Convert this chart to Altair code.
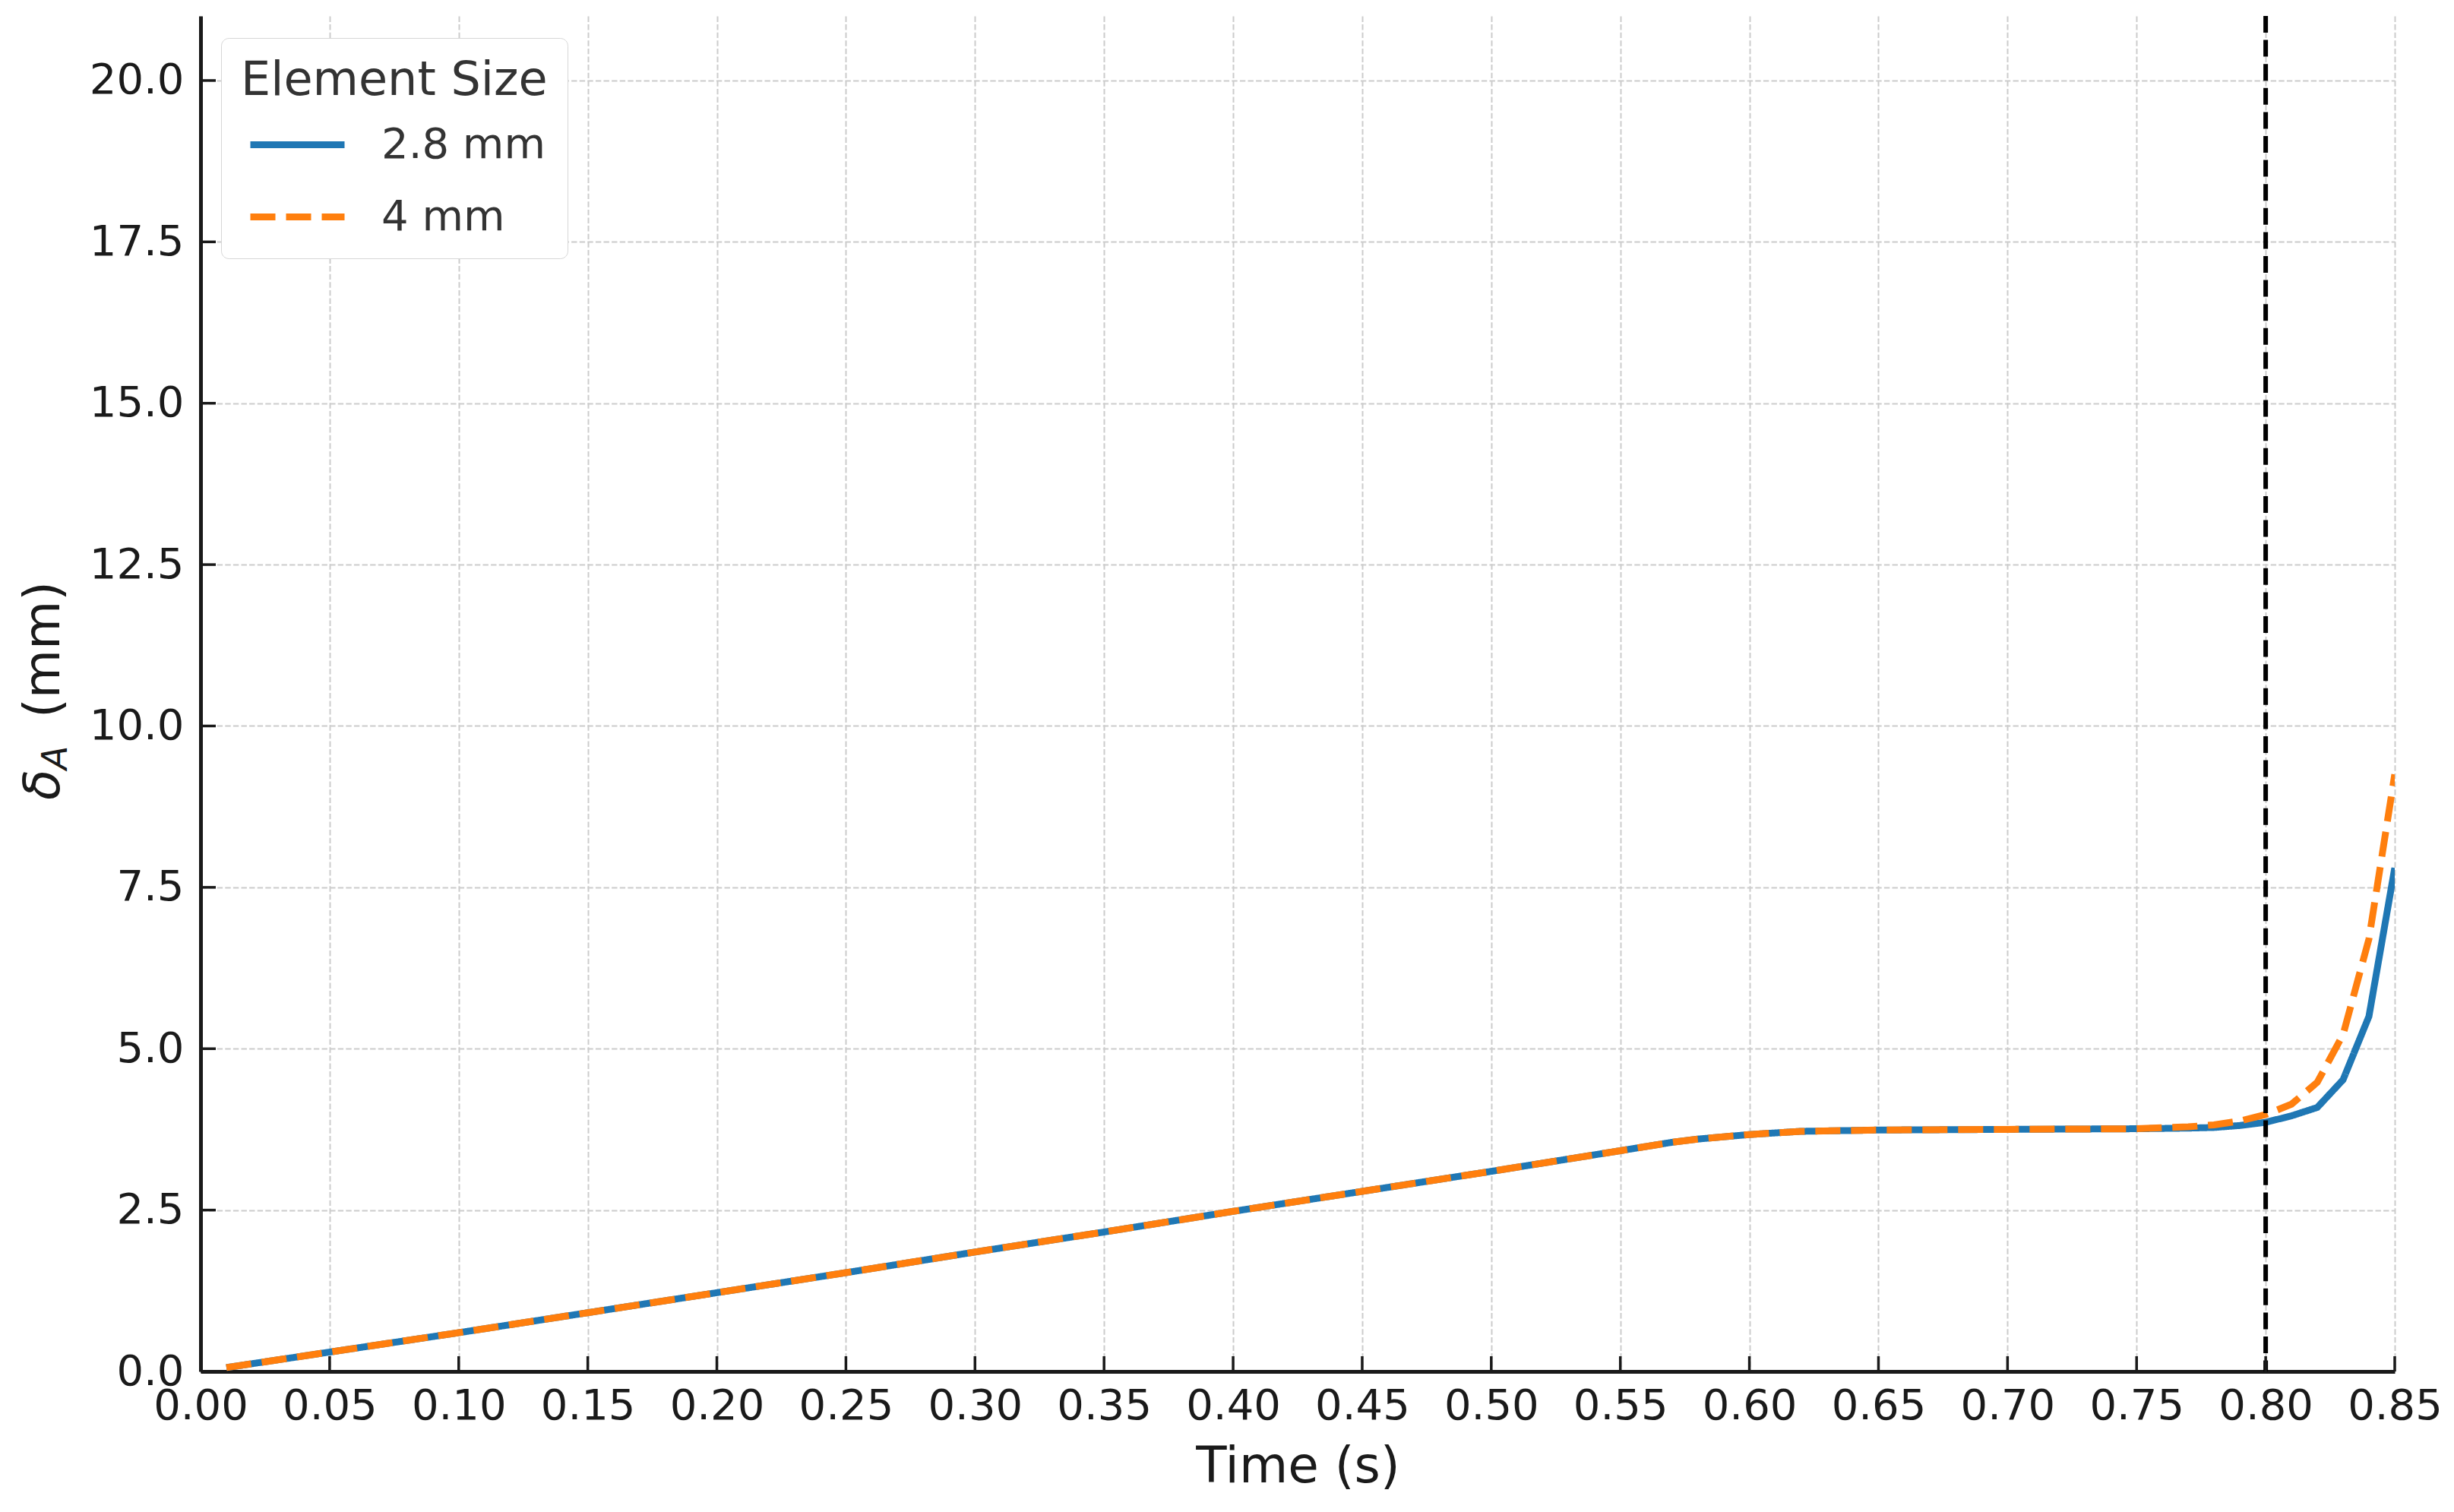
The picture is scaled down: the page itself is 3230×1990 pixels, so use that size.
import altair as alt
import pandas as pd

# ---- data ----
time = [0.01, 0.05, 0.10, 0.15, 0.20, 0.25, 0.30, 0.35, 0.40, 0.45, 0.50, 0.55,
        0.57, 0.58, 0.60, 0.62, 0.65, 0.70, 0.75, 0.77, 0.78, 0.79, 0.80, 0.81,
        0.82, 0.83, 0.84, 0.85]
delta_28 = [0.06, 0.30, 0.60, 0.91, 1.22, 1.53, 1.85, 2.16, 2.48, 2.79, 3.10, 3.42,
            3.55, 3.60, 3.67, 3.72, 3.74, 3.75, 3.76, 3.77, 3.78, 3.81, 3.86, 3.96,
            4.09, 4.52, 5.50, 7.80]
delta_4 = [0.06, 0.30, 0.60, 0.91, 1.22, 1.53, 1.85, 2.16, 2.48, 2.79, 3.10, 3.42,
           3.55, 3.60, 3.67, 3.72, 3.74, 3.75, 3.76, 3.79, 3.82, 3.88, 3.98, 4.14,
           4.48, 5.22, 6.70, 9.25]
series = ["2.8 mm", "4 mm"]
colors = ["#1f77b4", "#ff7f0e"]
dashes = [[1, 0], [33, 14]]
x_ticks = [0.00, 0.05, 0.10, 0.15, 0.20, 0.25, 0.30, 0.35, 0.40, 0.45, 0.50,
           0.55, 0.60, 0.65, 0.70, 0.75, 0.80, 0.85]
y_ticks = [0.0, 2.5, 5.0, 7.5, 10.0, 12.5, 15.0, 17.5, 20.0]
x_domain = [0, 0.85]
y_domain = [0, 21]
vline_t = [0.80]

W, H = 2888, 1784
FONT = "DejaVu Sans"
DARK = "#1a1a1a"

df = pd.DataFrame({
    "time": time + time,
    "delta": delta_28 + delta_4,
    "size": [series[0]] * len(time) + [series[1]] * len(time),
})

xs = alt.Scale(domain=x_domain, nice=False, zero=False)
ys = alt.Scale(domain=y_domain, nice=False, zero=False)

legend = alt.Legend(
    title="Element Size", orient="none", legendX=27, legendY=29,
    symbolType="stroke", symbolSize=15376, symbolStrokeWidth=9,
    labelFontSize=56, labelFont=FONT, labelColor="#333333", labelOffset=44,
    labelLimit=2000, titleLimit=2000,
    titleFontSize=62, titleFont=FONT, titleColor="#333333", titleFontWeight="normal",
    titlePadding=-14, rowPadding=-47, padding=26, cornerRadius=10,
    strokeColor="#d6d6d6", fillColor="white", symbolOffset=8,
)

x_axis = alt.Axis(
    values=x_ticks, format=".2f", title="Time (s)", grid=True,
    gridDash=[7.4, 3.2], gridColor="#cccccc", gridWidth=2,
    ticks=False, tickSize=0, labelPadding=18, labelFontSize=56,
    labelFont=FONT, labelColor=DARK, titleFont=FONT, titleFontSize=66,
    titleFontWeight="normal", titleColor=DARK, titlePadding=20,
    domainColor=DARK, domainWidth=5, labelFlush=False)
y_axis = alt.Axis(
    values=y_ticks, format=".1f", title=None, grid=True,
    gridDash=[7.4, 3.2], gridColor="#cccccc", gridWidth=2,
    ticks=False, tickSize=0, labelPadding=22, labelFontSize=56,
    labelFont=FONT, labelColor=DARK, domainColor=DARK, domainWidth=5,
    labelFlush=False)

lines = alt.Chart(df).mark_line(strokeWidth=9, clip=True).encode(
    x=alt.X("time:Q", scale=xs, axis=x_axis),
    y=alt.Y("delta:Q", scale=ys, axis=y_axis),
    color=alt.Color("size:N", scale=alt.Scale(domain=series, range=colors), legend=legend),
    strokeDash=alt.StrokeDash("size:N", scale=alt.Scale(domain=series, range=dashes), legend=legend),
)

vline = alt.Chart(pd.DataFrame({"time": vline_t})).mark_rule(
    color="black", strokeWidth=6, strokeDash=[22, 9.6]
).encode(x=alt.X("time:Q", scale=xs, axis=x_axis))

xt = alt.Chart(pd.DataFrame({"time": x_ticks})).mark_rule(color=DARK, strokeWidth=3.5).encode(
    x=alt.X("time:Q", scale=xs, axis=x_axis), y=alt.value(H), y2=alt.value(H - 20))
yt = alt.Chart(pd.DataFrame({"delta": y_ticks})).mark_rule(color=DARK, strokeWidth=3.5).encode(
    y=alt.Y("delta:Q", scale=ys, axis=y_axis), x=alt.value(0), x2=alt.value(20))

one = pd.DataFrame({"a": [0]})
t_delta = alt.Chart(one).mark_text(
    text="δ", angle=270, align="left", baseline="alphabetic", font=FONT,
    fontStyle="italic", fontSize=66, color=DARK
).encode(x=alt.value(-186), y=alt.value(1032))
t_sub = alt.Chart(one).mark_text(
    text="A", angle=270, align="left", baseline="alphabetic", font=FONT,
    fontStyle="italic", fontSize=46, color=DARK
).encode(x=alt.value(-176), y=alt.value(992))
t_mm = alt.Chart(one).mark_text(
    text="(mm)", angle=270, align="left", baseline="alphabetic", font=FONT,
    fontSize=66, color=DARK
).encode(x=alt.value(-186), y=alt.value(924))

chart = alt.layer(lines, vline, xt, yt, t_delta, t_sub, t_mm).properties(
    width=W, height=H,
    autosize=alt.AutoSizeParams(type="none"),
    padding={"left": 256, "top": 13, "right": 70, "bottom": 177},
    background="white",
).configure_view(stroke=None)

chart.save("out.html", embed_options={"renderer": "svg", "actions": False})
